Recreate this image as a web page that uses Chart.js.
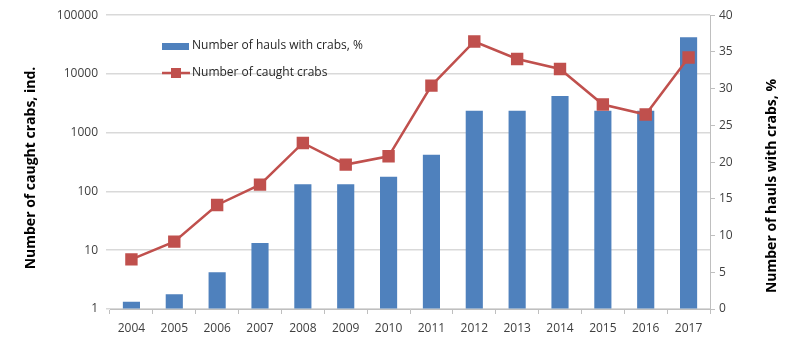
<!DOCTYPE html>
<html>
<head>
<meta charset="utf-8">
<script src="https://cdn.jsdelivr.net/npm/chart.js@4"></script>
<style>
  html, body { margin: 0; padding: 0; background: #fff; }
  #wrap { width: 794px; height: 339px; position: relative; }
</style>
</head>
<body>
<div id="wrap"><canvas id="crabChart"></canvas></div>
<script>
// データ
const years = ['2004', '2005', '2006', '2007', '2008', '2009', '2010', '2011', '2012', '2013', '2014', '2015', '2016', '2017'];
const haulsPercent = [1, 2, 5, 9, 17, 17, 18, 21, 27, 27, 29, 27, 27, 37];
const caughtCrabs = [7, 14, 59, 131, 670, 287, 397, 6330, 35700, 17960, 12160, 3020, 2040, 19100];
const leftTicks = [1, 10, 100, 1000, 10000, 100000];
const leftTitle = 'Number of caught crabs, ind.';
const rightTitle = 'Number of hauls with crabs, %';

const fontFamily = '"Open Sans", "Liberation Sans", sans-serif';
const gridColor = '#d9d9d9';
const axisColor = '#bfbfbf';

// 凡例とタイトルを描くプラグイン
const decorPlugin = {
    id: 'decor',
    afterDraw(chart) {
        const ctx = chart.ctx;
        const ds = chart.data.datasets;
        ctx.save();
        ctx.font = '12px ' + fontFamily;
        ctx.fillStyle = '#262626';
        ctx.textBaseline = 'middle';
        // 棒グラフの凡例
        ctx.fillStyle = ds[0].backgroundColor;
        ctx.fillRect(162, 43, 27, 7);
        ctx.fillStyle = '#262626';
        ctx.fillText(ds[0].label, 192, 46);
        // 折れ線の凡例
        ctx.strokeStyle = ds[1].borderColor;
        ctx.lineWidth = 2.5;
        ctx.beginPath();
        ctx.moveTo(162, 73);
        ctx.lineTo(190, 73);
        ctx.stroke();
        ctx.fillStyle = ds[1].borderColor;
        ctx.fillRect(171, 68, 10, 10);
        ctx.fillStyle = '#262626';
        ctx.fillText(ds[1].label, 192, 73);

        // 軸タイトル（両方とも下から上へ）
        ctx.font = 'bold 14px ' + fontFamily;
        ctx.fillStyle = '#000';
        ctx.textAlign = 'center';
        ctx.translate(31, 168);
        ctx.rotate(-Math.PI / 2);
        ctx.fillText(leftTitle, 0, 0);
        ctx.restore();

        ctx.save();
        ctx.font = 'bold 14px ' + fontFamily;
        ctx.fillStyle = '#000';
        ctx.textAlign = 'center';
        ctx.textBaseline = 'middle';
        ctx.translate(772, 186);
        ctx.rotate(-Math.PI / 2);
        ctx.fillText(rightTitle, 0, 0);
        ctx.restore();
    }
};

const ctx = document.getElementById('crabChart').getContext('2d');
const crabChart = new Chart(ctx, {
    data: {
        labels: years,
        datasets: [
            {
                type: 'bar',
                label: 'Number of hauls with crabs, %',
                data: haulsPercent,
                yAxisID: 'yRight',
                backgroundColor: '#4f81bd',
                borderWidth: 0,
                barPercentage: 0.4,
                categoryPercentage: 1,
                order: 2
            },
            {
                type: 'line',
                label: 'Number of caught crabs',
                data: caughtCrabs,
                yAxisID: 'yLeft',
                borderColor: '#c0504d',
                backgroundColor: '#c0504d',
                borderWidth: 2.5,
                pointStyle: 'rect',
                pointRadius: 7,
                pointHoverRadius: 7,
                tension: 0,
                order: 1
            }
        ]
    },
    options: {
        responsive: true,
        maintainAspectRatio: false,
        animation: false,
        layout: { padding: { top: 15, left: 0, right: 0, bottom: 0 } },
        plugins: {
            legend: { display: false },
            tooltip: { enabled: false }
        },
        scales: {
            x: {
                offset: true,
                grid: {
                    offset: true,
                    drawOnChartArea: false,
                    color: axisColor,
                    tickLength: 5
                },
                border: { color: axisColor },
                ticks: {
                    color: '#404040',
                    font: { family: fontFamily, size: 12 },
                    padding: 7,
                    maxRotation: 0
                },
                afterFit(scale) { scale.height = 30; }
            },
            yLeft: {
                type: 'logarithmic',
                position: 'left',
                min: 1,
                max: 100000,
                afterBuildTicks(scale) {
                    scale.ticks = leftTicks.map(v => ({ value: v }));
                },
                ticks: {
                    color: '#404040',
                    font: { family: fontFamily, size: 12 },
                    padding: 8,
                    callback: v => String(v)
                },
                grid: {
                    color: gridColor,
                    lineWidth: 1.5,
                    tickLength: 4
                },
                border: { display: false },
                afterFit(scale) { scale.width = 110; }
            },
            yRight: {
                type: 'linear',
                position: 'right',
                min: 0,
                max: 40,
                ticks: {
                    stepSize: 5,
                    color: '#404040',
                    font: { family: fontFamily, size: 12 },
                    padding: 4
                },
                grid: {
                    drawOnChartArea: false,
                    color: axisColor,
                    tickLength: 5
                },
                border: { color: axisColor },
                afterFit(scale) { scale.width = 84; }
            }
        }
    },
    plugins: [decorPlugin]
});
</script>
</body>
</html>
